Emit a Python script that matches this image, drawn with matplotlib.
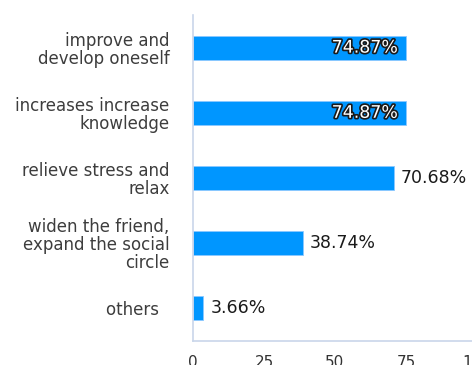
import matplotlib
matplotlib.use("Agg")
import matplotlib.pyplot as plt
import matplotlib.patheffects as pe

# reasons and share of respondents (%)
categories = [
    "improve and\ndevelop oneself",
    "increases increase\nknowledge",
    "relieve stress and\nrelax",
    "widen the friend,\nexpand the social\ncircle",
    "others  ",
]
values = [74.87, 74.87, 70.68, 38.74, 3.66]
inside_label = [True, True, False, False, False]
xticks = [0, 25, 50, 75, 100]

plt.rcParams['font.family'] = ['DejaVu Sans']

fig = plt.figure(figsize=(4.72, 3.65), dpi=100)
ax = fig.add_axes([193 / 472, 24 / 365, 284 / 472, 326 / 365])

ypos = list(range(len(categories)))
ax.barh(ypos, values, height=0.37, color="#0096ff",
        edgecolor="#8cc8ff", linewidth=0.6)

for y, v, inside in zip(ypos, values, inside_label):
    txt = "{:.2f}%".format(v)
    if inside:
        t = ax.text(v - 2.8, y, txt, ha="right", va="center",
                    fontsize=12.5, color="white")
        t.set_path_effects([pe.Stroke(linewidth=2.4, foreground="#1a1a1a"),
                            pe.Normal()])
    else:
        ax.text(v + 2.5, y, txt, ha="left", va="center",
                fontsize=12.5, color="#1a1a1a")

ax.set_ylim(4.5, -0.5)
ax.set_xlim(0, 100)
ax.set_yticks(ypos)
ax.set_yticklabels(categories, fontsize=12, color="#3d3d3d",
                   linespacing=1.0)
ax.set_xticks(xticks)
ax.set_xticklabels([str(t) for t in xticks], fontsize=11, color="#333333")
ax.tick_params(axis="both", length=0)
ax.tick_params(axis="y", pad=17)
ax.tick_params(axis="x", pad=10)

for side in ["top", "right"]:
    ax.spines[side].set_visible(False)
for side in ["left", "bottom"]:
    ax.spines[side].set_color("#c9d6ea")
    ax.spines[side].set_linewidth(1.2)

fig.savefig("out.png", dpi=100)
